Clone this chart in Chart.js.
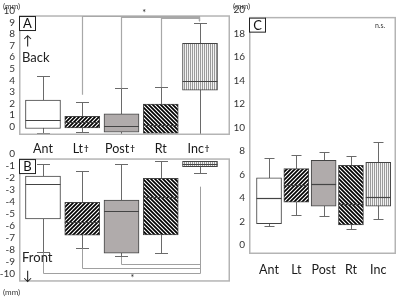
<!DOCTYPE html>
<html><head><meta charset="utf-8">
<script src="https://cdn.jsdelivr.net/npm/chart.js@4.4.1/dist/chart.umd.min.js"></script>
<style>
html,body{margin:0;padding:0;background:#fff;}
#wrap{position:relative;width:401px;height:297px;overflow:hidden;background:#fff;font-family:Lato,sans-serif;}
canvas{position:absolute;}
.mm{position:absolute;font-size:8px;color:#333;font-family:Lato,sans-serif;line-height:8px;}
</style></head><body>
<div id="wrap">
<canvas id="cA" width="240" height="145" style="left:0;top:0;width:240px;height:145px"></canvas>
<canvas id="cB" width="240" height="157" style="left:0;top:140px;width:240px;height:157px"></canvas>
<canvas id="cC" width="169" height="297" style="left:232px;top:0;width:169px;height:297px"></canvas>
<div class="mm" style="left:3px;top:2px">(mm)</div>
<div class="mm" style="left:233px;top:2px">(mm)</div>
<div class="mm" style="left:3px;top:288px">(mm)</div>
</div>
<script>
// ---- data ----
const categories = ['Ant','Lt','Post','Rt','Inc'];
const daggers    = ['', '†', '†', '', '†'];
const ticksA = [0,1,2,3,4,5,6,7,8,9,10];
const ticksB = [0,-1,-2,-3,-4,-5,-6,-7,-8,-9,-10];
const ticksC = [0,2,4,6,8,10,12,14,16,18,20];

const A_min = [-0.56, -0.42, -0.60, -0.65, -0.60];
const A_q1  = [-0.14, -0.08, -0.45, -0.56,  3.17];
const A_med = [ 0.56,  0.45,  0.11,  0.20,  3.97];
const A_q3  = [ 2.30,  0.90,  1.12,  1.96,  7.20];
const A_max = [ 4.40,  2.16,  3.33,  3.44,  8.96];

const B_min = [-8.20, -7.86, -8.56, -8.28, -1.61];
const B_q1  = [-5.47, -6.83, -8.33, -6.80, -1.11];
const B_med = [-2.56, -5.72, -4.81, -3.67, -0.90];
const B_q3  = [-1.89, -4.08, -3.89, -2.08, -0.67];
const B_max = [-0.92, -1.44, -0.92, -0.61, -0.67];

const C_min = [1.66, 2.54, 2.48, 1.33, 2.22];
const C_q1  = [1.83, 3.66, 3.30, 1.72, 3.32];
const C_med = [4.03, 5.13, 5.16, 3.50, 4.06];
const C_q3  = [5.72, 6.51, 7.21, 6.79, 7.04];
const C_max = [7.38, 7.69, 7.95, 7.58, 8.79];

// ---- styles ----
const fillKinds = ['white','fwd','grey','back','vert'];
function pattern(kind){
  if(kind==='white') return '#ffffff';
  if(kind==='grey') return '#b0abab';
  const c=document.createElement('canvas');
  const ctx=c.getContext('2d');
  if(kind==='vert'){
    c.width=2;c.height=2;
    ctx.fillStyle='#f2f2f2';ctx.fillRect(0,0,2,2);
    ctx.fillStyle='#9a9a9a';ctx.fillRect(0,0,1,2);
  } else {
    const s=4;c.width=s;c.height=s;
    ctx.fillStyle='#fff';ctx.fillRect(0,0,s,s);
    ctx.strokeStyle='#000';ctx.lineWidth=1.7;ctx.beginPath();
    if(kind==='fwd'){
      ctx.moveTo(-1,s+1);ctx.lineTo(s+1,-1);
      ctx.moveTo(-1,1);ctx.lineTo(1,-1);
      ctx.moveTo(s-1,s+1);ctx.lineTo(s+1,s-1);
    } else {
      ctx.moveTo(-1,-1);ctx.lineTo(s+1,s+1);
      ctx.moveTo(-1,s-1);ctx.lineTo(1,s+1);
      ctx.moveTo(s-1,-1);ctx.lineTo(s+1,1);
    }
    ctx.stroke();
  }
  return document.createElement('canvas').getContext('2d').createPattern(c,'repeat');
}
const fills = fillKinds.map(pattern);
const FONT='Lato, sans-serif';

const panelCfg = {};

const boxPlugin = {
  id:'boxes',
  beforeDatasetsDraw(chart){
    const o=panelCfg[chart.canvas.id]; const ctx=chart.ctx;
    const x=chart.scales.x, y=chart.scales.y;
    ctx.save(); ctx.strokeStyle='#6a6a6a'; ctx.lineWidth=1;
    o.min.forEach((mn,i)=>{
      const cx=Math.round(x.getPixelForValue(i))+0.5;
      const y1=Math.round(y.getPixelForValue(mn))+0.5, y2=Math.round(y.getPixelForValue(o.max[i]))+0.5;
      ctx.beginPath();
      ctx.moveTo(cx,y1);ctx.lineTo(cx,y2);
      ctx.moveTo(cx-o.cap/2,y1);ctx.lineTo(cx+o.cap/2,y1);
      ctx.moveTo(cx-o.cap/2,y2);ctx.lineTo(cx+o.cap/2,y2);
      ctx.stroke();
    });
    ctx.restore();
  },
  afterDatasetsDraw(chart){
    const o=panelCfg[chart.canvas.id]; const ctx=chart.ctx;
    const x=chart.scales.x, y=chart.scales.y, ca=chart.chartArea;
    const meta=chart.getDatasetMeta(0);
    ctx.save();
    ctx.strokeStyle='#444'; ctx.lineWidth=1.2;
    o.med.forEach((m,i)=>{
      const b=meta.data[i]; const hw=b.width/2; const yy=Math.round(y.getPixelForValue(m))+0.5;
      ctx.beginPath();ctx.moveTo(b.x-hw,yy);ctx.lineTo(b.x+hw,yy);ctx.stroke();
    });
    // frame
    const ft=y.getPixelForValue(o.frameTop);
    ctx.strokeStyle='#b4b4b4'; ctx.lineWidth=1.5;
    ctx.strokeRect(ca.left+0.75, ft, ca.right-ca.left-1.5, ca.bottom-ft-0.75);
    // panel label box
    ctx.fillStyle='#fff'; ctx.fillRect(ca.left, ft, 16, 14);
    ctx.strokeStyle='#222'; ctx.lineWidth=1;
    ctx.strokeRect(ca.left+0.5, ft+0.5, 16, 14);
    ctx.fillStyle='#111'; ctx.font='13px '+FONT; ctx.textAlign='center'; ctx.textBaseline='middle';
    ctx.fillText(o.label, ca.left+8.5, ft+8);
    if(o.extra) o.extra(chart,ctx,x,y,ca);
    ctx.restore();
  }
};

function makeChart(id, min,q1,med,q3,max, yMin,yMax,ticks, xMin,xMax, barW, pad, yW, extraCfg){
  panelCfg[id]=Object.assign({min:min,max:max,med:med}, extraCfg);
  return new Chart(document.getElementById(id), {
    type:'bar',
    data:{datasets:[{
      data:categories.map((c,i)=>({x:i,y:[q1[i],q3[i]]})),
      backgroundColor:fills, borderColor:'#444', borderWidth:1, borderSkipped:false,
      barThickness:barW
    }]},
    options:{
      responsive:false, animation:false, devicePixelRatio:1, events:[],
      layout:{padding:pad},
      plugins:{legend:{display:false},tooltip:{enabled:false}},
      scales:{
        x:{type:'linear',display:false,offset:false,min:xMin,max:xMax,grid:{offset:false}},
        y:{min:yMin,max:yMax,
           afterFit(s){s.width=yW;},
           afterBuildTicks(s){s.ticks=ticks.map(v=>({value:v}));},
           grid:{display:false,drawTicks:false,tickLength:0}, border:{display:false},
           ticks:{color:'#333',font:{family:FONT,size:10},padding:4,autoSkip:false}}
      }
    },
    plugins:[boxPlugin]
  });
}

// Panel A
makeChart('cA', A_min,A_q1,A_med,A_q3,A_max, -0.7,10,ticksA, -0.611,4.764, 35,
  {top:10.8,bottom:6.7,left:0,right:10}, 19,
  {cap:13, frameTop:9.55, label:'A', extra(chart,ctx,x,y,ca){
    ctx.strokeStyle='#a8a8a8'; ctx.lineWidth=1.2;
    const xi=i=>Math.round(x.getPixelForValue(i))+0.5;
    const xInc=xi(4)-1;
    [[1,9.55,7],[2,9.45,0],[3,9.35,0]].forEach(([i,lv,gap])=>{
      const yl=Math.round(y.getPixelForValue(lv))+0.5;
      ctx.beginPath();
      ctx.moveTo(xi(i), y.getPixelForValue(A_max[i])-gap);
      ctx.lineTo(xi(i), yl); ctx.lineTo(xInc, yl); ctx.lineTo(xInc, y.getPixelForValue(9.1));
      ctx.stroke();
    });
    ctx.fillStyle='#222'; ctx.font='9px '+FONT; ctx.textAlign='center'; ctx.textBaseline='middle';
    ctx.fillText('*', (x.getPixelForValue(2)+x.getPixelForValue(3))/2+3, y.getPixelForValue(9.85)+1);
    ctx.font='13px '+FONT; ctx.textAlign='left';
    ctx.fillText('↑', ca.left+4, 41);
    ctx.fillText('Back', ca.left+3, 57.5);
  }});

// Panel B
makeChart('cB', B_min,B_q1,B_med,B_q3,B_max, -10.7,0,ticksB, -0.611,4.764, 35,
  {top:13.3,bottom:15.3,left:0,right:10}, 19,
  {cap:13, frameTop:-0.48, label:'B', extra(chart,ctx,x,y,ca){
    ctx.strokeStyle='#a0a0a0'; ctx.lineWidth=1;
    const xi=i=>Math.round(x.getPixelForValue(i))+0.5;
    const xInc=xi(4);
    [[0,-9.95],[1,-9.58],[2,-9.25]].forEach(([i,lv])=>{
      const yl=Math.round(y.getPixelForValue(lv))+0.5;
      ctx.beginPath();
      ctx.moveTo(xi(i), y.getPixelForValue(B_min[i])+1);
      ctx.lineTo(xi(i), yl); ctx.lineTo(xInc, yl);
      ctx.stroke();
    });
    ctx.beginPath(); ctx.moveTo(xInc, y.getPixelForValue(-2.78)); ctx.lineTo(xInc, Math.round(y.getPixelForValue(-9.95))+0.5); ctx.stroke();
    ctx.fillStyle='#222'; ctx.font='9px '+FONT; ctx.textAlign='center'; ctx.textBaseline='middle';
    ctx.fillText('*', x.getPixelForValue(2)+11, y.getPixelForValue(-10.3)+1);
    ctx.font='13px '+FONT; ctx.textAlign='left';
    ctx.fillText('Front', ca.left+3, 118);
    ctx.fillText('↓', ca.left+4, 135.5);
    // category labels (shared by A and B)
    ctx.fillStyle='#1a1a1a';
    categories.forEach((c,i)=>{
      ctx.font='12.5px '+FONT;
      const w=ctx.measureText(c).width;
      ctx.font='bold 8px '+FONT;
      const wd=daggers[i]?ctx.measureText(daggers[i]).width+1:0;
      const start=x.getPixelForValue(i)-(w+wd)/2-(daggers[i]?1.5:0);
      ctx.font='12.5px '+FONT; ctx.textAlign='left'; ctx.textBaseline='middle';
      ctx.fillText(c, start, 9);
      if(daggers[i]){ ctx.font='bold 8px '+FONT; ctx.textBaseline='top'; ctx.fillText(daggers[i], start+w+1, 4); }
    });
  }});

// Panel C
makeChart('cC', C_min,C_q1,C_med,C_q3,C_max, -0.76,20,ticksC, -0.733,4.65, 25,
  {top:8.3,bottom:43,left:0,right:5}, 17,
  {cap:10, frameTop:19.35, label:'C', extra(chart,ctx,x,y,ca){
    ctx.fillStyle='#333'; ctx.font='7px '+FONT; ctx.textAlign='center'; ctx.textBaseline='middle';
    ctx.fillText('n.s.', ca.right-16, y.getPixelForValue(18.65));
    ctx.fillStyle='#1a1a1a'; ctx.font='12.5px '+FONT;
    categories.forEach((c,i)=>ctx.fillText(c, x.getPixelForValue(i), 270));
  }});
</script>
</body></html>
